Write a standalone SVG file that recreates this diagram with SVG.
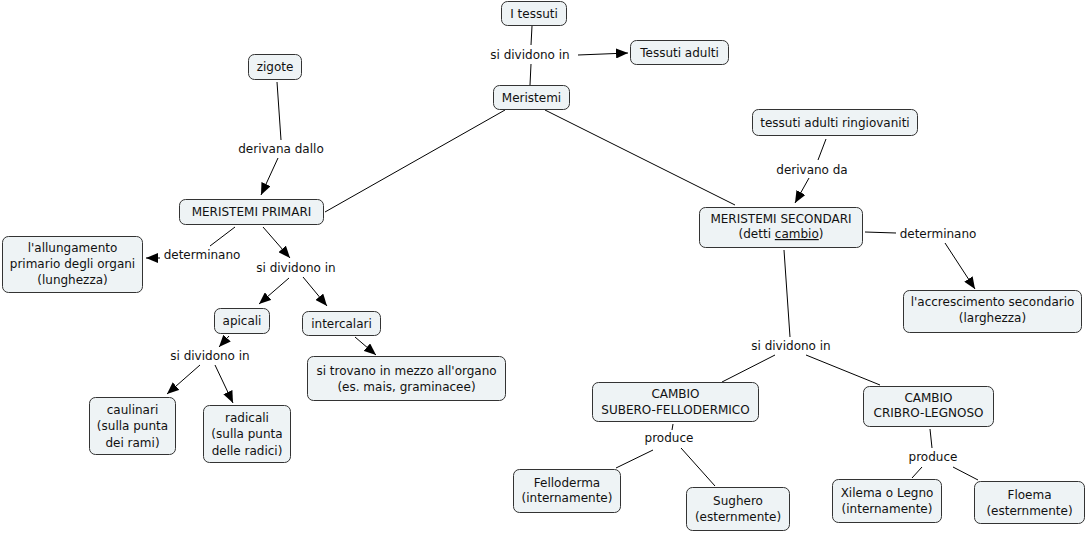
<svg xmlns="http://www.w3.org/2000/svg" width="1086" height="533" viewBox="0 0 1086 533">
<defs>
<marker id="ah" viewBox="0 0 12 10" refX="12" refY="5" markerWidth="12" markerHeight="10" markerUnits="userSpaceOnUse" orient="auto">
<path d="M0,0 L12,5 L0,10 z" fill="#000"/>
</marker>
<style>
.n{fill:#eef3f5;stroke:#333;stroke-width:1}
text{font-family:"DejaVu Sans",Verdana,sans-serif;font-size:12px;fill:#111;text-anchor:middle}
.c line{stroke:#000;stroke-width:1}
.a{marker-end:url(#ah)}
</style>
</defs>
<rect width="1086" height="533" fill="#fff"/>
<g class="c" id="connectors">
<line x1="532" y1="26" x2="531" y2="45"/>
<line x1="531" y1="64" x2="530" y2="85"/>
<line class="a" x1="578" y1="55" x2="628" y2="53"/>
<line x1="505" y1="110" x2="325" y2="212"/>
<line x1="545" y1="110" x2="735" y2="205"/>
<line x1="277" y1="82" x2="281" y2="140"/>
<line class="a" x1="278" y1="158" x2="261" y2="195"/>
<line x1="235" y1="227" x2="210" y2="246"/>
<line class="a" x1="160" y1="258" x2="146" y2="258"/>
<line class="a" x1="263" y1="227" x2="290" y2="258"/>
<line class="a" x1="289" y1="278" x2="259" y2="304"/>
<line class="a" x1="303" y1="277" x2="327" y2="306"/>
<line class="a" x1="229" y1="336" x2="219" y2="347"/>
<line class="a" x1="355" y1="337" x2="376" y2="355"/>
<line class="a" x1="200" y1="365" x2="167" y2="394"/>
<line class="a" x1="215" y1="365" x2="233" y2="403"/>
<line x1="826" y1="139" x2="818" y2="160"/>
<line class="a" x1="809" y1="178" x2="795" y2="203"/>
<line x1="865" y1="232" x2="896" y2="233"/>
<line class="a" x1="945" y1="243" x2="975" y2="289"/>
<line x1="784" y1="250" x2="790" y2="337"/>
<line x1="775" y1="355" x2="722" y2="382"/>
<line x1="806" y1="355" x2="880" y2="385"/>
<line x1="673" y1="424" x2="672" y2="430"/>
<line x1="653" y1="450" x2="616" y2="468"/>
<line x1="681" y1="448" x2="715" y2="486"/>
<line x1="930" y1="429" x2="932" y2="448"/>
<line x1="922" y1="467" x2="912" y2="478"/>
<line x1="953" y1="467" x2="978" y2="480"/>
</g>
<g class="c" id="labels">
<text x="530" y="59">si dividono in</text>
<text x="281" y="153">derivana dallo</text>
<text x="202" y="259">determinano</text>
<text x="296" y="272">si dividono in</text>
<text x="210" y="360">si dividono in</text>
<text x="812" y="174">derivano da</text>
<text x="938" y="238">determinano</text>
<text x="791" y="350">si dividono in</text>
<text x="669" y="442">produce</text>
<text x="933" y="461">produce</text>
</g>
<g id="n-itessuti"><rect class="n" x="501.5" y="1.5" width="65" height="24" rx="6"/><text x="534" y="18">I tessuti</text></g>
<g id="n-adulti"><rect class="n" x="630.5" y="40.5" width="98" height="24" rx="6"/><text x="679.5" y="57">Tessuti adulti</text></g>
<g id="n-meristemi"><rect class="n" x="493.5" y="85.5" width="76" height="24" rx="6"/><text x="531.5" y="102">Meristemi</text></g>
<g id="n-zigote"><rect class="n" x="248.5" y="54.5" width="53" height="25" rx="6"/><text x="275" y="71">zigote</text></g>
<g id="n-primari"><rect class="n" x="179.5" y="199.5" width="144" height="25" rx="6"/><text x="251.5" y="216">MERISTEMI PRIMARI</text></g>
<g id="n-allungamento"><rect class="n" x="2.5" y="236.5" width="140" height="56" rx="6"/><text x="72.5" y="252">l'allungamento</text><text x="72.5" y="268">primario degli organi</text><text x="72.5" y="284">(lunghezza)</text></g>
<g id="n-apicali"><rect class="n" x="214.5" y="308.5" width="55" height="25" rx="6"/><text x="242" y="325">apicali</text></g>
<g id="n-intercalari"><rect class="n" x="302.5" y="311.5" width="78" height="24" rx="6"/><text x="341.5" y="328">intercalari</text></g>
<g id="n-sitrovano"><rect class="n" x="307.5" y="356.5" width="198" height="44" rx="6"/><text x="406.5" y="375">si trovano in mezzo all'organo</text><text x="406.5" y="391">(es. mais, graminacee)</text></g>
<g id="n-caulinari"><rect class="n" x="89.5" y="397.5" width="86" height="57" rx="6"/><text x="132.5" y="414">caulinari</text><text x="132.5" y="430">(sulla punta</text><text x="132.5" y="447">dei rami)</text></g>
<g id="n-radicali"><rect class="n" x="203.5" y="405.5" width="87" height="57" rx="6"/><text x="247" y="422">radicali</text><text x="247" y="438">(sulla punta</text><text x="247" y="455">delle radici)</text></g>
<g id="n-ringiovaniti"><rect class="n" x="752.5" y="109.5" width="165" height="26" rx="6"/><text x="835" y="127">tessuti adulti ringiovaniti</text></g>
<g id="n-secondari"><rect class="n" x="699.5" y="207.5" width="163" height="40" rx="6"/><text x="781" y="223">MERISTEMI SECONDARI</text><text x="781" y="238">(detti <tspan text-decoration="underline">cambio</tspan>)</text></g>
<g id="n-accrescimento"><rect class="n" x="903.5" y="290.5" width="178" height="42" rx="6"/><text x="992.5" y="306">l'accrescimento secondario</text><text x="992.5" y="322">(larghezza)</text></g>
<g id="n-subero"><rect class="n" x="592.5" y="382.5" width="166" height="39" rx="6"/><text x="675.5" y="398">CAMBIO</text><text x="675.5" y="414">SUBERO-FELLODERMICO</text></g>
<g id="n-cribro"><rect class="n" x="863.5" y="386.5" width="130" height="40" rx="6"/><text x="928.5" y="402">CAMBIO</text><text x="928.5" y="417">CRIBRO-LEGNOSO</text></g>
<g id="n-felloderma"><rect class="n" x="513.5" y="469.5" width="107" height="43" rx="6"/><text x="567" y="487">Felloderma</text><text x="567" y="502">(internamente)</text></g>
<g id="n-sughero"><rect class="n" x="686.5" y="487.5" width="103" height="43" rx="6"/><text x="738" y="505">Sughero</text><text x="738" y="521">(esternmente)</text></g>
<g id="n-xilema"><rect class="n" x="832.5" y="479.5" width="109" height="43" rx="6"/><text x="887" y="497">Xilema o Legno</text><text x="887" y="513">(internamente)</text></g>
<g id="n-floema"><rect class="n" x="974.5" y="481.5" width="110" height="42" rx="6"/><text x="1029.5" y="499">Floema</text><text x="1029.5" y="515">(esternmente)</text></g>
</svg>
